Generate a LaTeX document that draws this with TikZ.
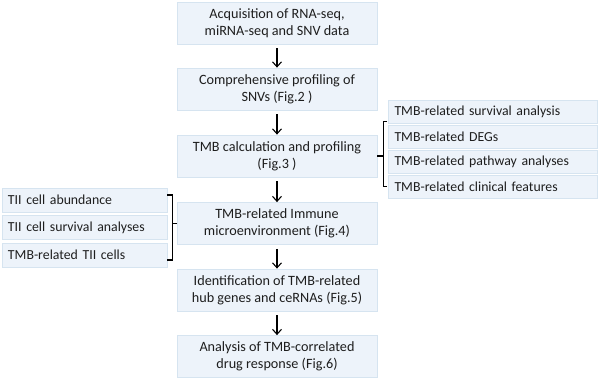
\documentclass[tikz,border=0pt]{standalone}
\usepackage{fontspec}
\setmainfont{Carlito}
\usetikzlibrary{arrows.meta,calc}
\definecolor{boxfill}{HTML}{EDF3FA}
\definecolor{boxline}{HTML}{D6E4F0}
\definecolor{txt}{HTML}{1E1E1E}
\tikzset{
  mainbox/.style={draw=boxline,fill=boxfill,line width=0.8pt,minimum width=200pt,minimum height=42pt,inner sep=0pt,align=center,text=txt,font=\fontsize{14.2pt}{17pt}\selectfont},
  sidebox/.style={draw=boxline,fill=boxfill,line width=0.8pt,minimum height=23pt,inner sep=0pt,text=txt,font=\fontsize{13.8pt}{16pt}\selectfont},
  flow/.style={line width=1.1pt,-{Straight Barb[length=5pt,width=9pt,line width=1.1pt]}},
  brk/.style={line width=1.1pt}
}
\begin{document}
\begin{tikzpicture}[x=1pt,y=-1pt]
\useasboundingbox (0,0) rectangle (600,380);
% main column
\node[mainbox] (b1) at (277,23) {Acquisition of RNA-seq,\\miRNA-seq and SNV data};
\node[mainbox] (b2) at (277,89) {Comprehensive profiling of\\SNVs (Fig.2 )};
\node[mainbox] (b3) at (277,156) {TMB calculation and profiling\\(Fig.3 )};
\node[mainbox] (b4) at (277,223.5) {TMB-related Immune\\microenvironment (Fig.4)};
\node[mainbox] (b5) at (277,290) {Identification of TMB-related\\hub genes and ceRNAs (Fig.5)};
\node[mainbox] (b6) at (277,356.5) {Analysis of TMB-correlated\\drug response (Fig.6)};
% right boxes
\begin{scope}[every node/.append style={sidebox,minimum width=209pt,text width=196pt,align=left}]
\node (r1) at (492.5,111.5) {TMB-related survival analysis};
\node (r2) at (492.5,136.5) {TMB-related DEGs};
\node (r3) at (492.5,161.5) {TMB-related pathway analyses};
\node (r4) at (492.5,186.5) {TMB-related clinical features};
\end{scope}
% left boxes
\begin{scope}[every node/.append style={sidebox,minimum width=165pt,minimum height=24pt,text width=153pt,align=left}]
\node (l1) at (84.5,200) {TII cell abundance};
\node (l2) at (84.5,227.5) {TII cell survival analyses};
\node (l3) at (84.5,255) {TMB-related TII cells};
\end{scope}
% arrows
\foreach \a/\b in {b1/b2,b2/b3,b3/b4,b4/b5,b5/b6}
  \draw[flow] ($(\a.south)+(0,4)$) -- (\b.north);
% right bracket
\coordinate (rt) at ($(r1.south west)+(-4,-2)$);
\coordinate (rb) at ($(r4.west)+(-4,0)$);
\coordinate (rm) at (rt |- b3.east);
\draw[brk] ($(rt)+(3.5,0)$) -- (rt) -- (rb) -- ($(rb)+(3.5,0)$);
\draw[brk] (rm) -- (b3.east);
% left bracket
\coordinate (lt) at ($(l1.east)+(5,-5)$);
\coordinate (lb) at ($(l3.east)+(5,5)$);
\coordinate (lm) at (lt |- b4.west);
\draw[brk] ($(lt)+(-5,0)$) -- (lt) -- (lb) -- ($(lb)+(-5,0)$);
\draw[brk] (lm) -- (b4.west);
\end{tikzpicture}
\end{document}
